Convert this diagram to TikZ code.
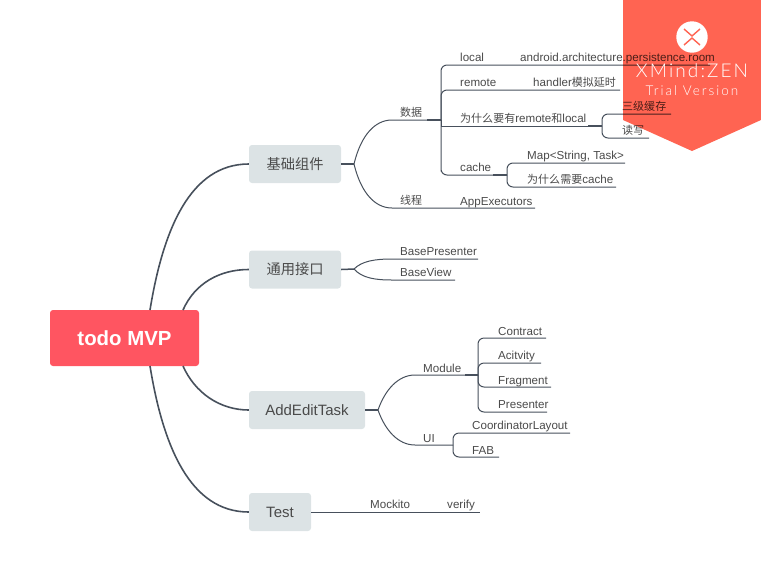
\documentclass[tikz,border=0pt]{standalone}
\usepackage{fontspec}
\setmainfont{Liberation Sans}
\newfontfamily\cjk[Scale=0.95]{Noto Sans CJK SC}
\newfontfamily\bannerA[LetterSpace=11]{Lato Light}
\newfontfamily\bannerB[LetterSpace=15]{Lato Light}
\definecolor{linecol}{HTML}{47505C}
\definecolor{txtcol}{HTML}{4A4A4A}
\definecolor{rootcol}{HTML}{FF5561}
\definecolor{boxcol}{HTML}{DCE3E5}
\definecolor{bannercol}{HTML}{FF6452}
\tikzset{
  x=1pt,y=-1pt,
  rootbox/.style={fill=rootcol,rounded corners=3pt,text=white,font=\fontsize{20.4}{24}\selectfont\bfseries,align=center,inner sep=0pt,minimum width=149pt,minimum height=56pt},
  topicbox/.style={fill=boxcol,rounded corners=3pt,text=txtcol,font=\fontsize{15}{17}\selectfont,align=center,inner sep=0pt,minimum height=38pt},
  leaf/.style={anchor=base west,text=txtcol,font=\fontsize{11.6}{13}\selectfont,inner sep=0pt},
  main/.style={draw=linecol,line width=1.6pt},
  sub/.style={draw=linecol,line width=1pt},
  stub/.style={draw=linecol,line width=1.5pt},
  turn/.style={sub,rounded corners=6pt},
}
\begin{document}
\begin{tikzpicture}
\useasboundingbox (0,0) rectangle (761,582);
% topics
\node[rootbox] (root) at (124.5,338) {todo MVP};
\node[topicbox,minimum width=92pt] (basic) at (295,164) {{\cjk 基础组件}};
\node[topicbox,minimum width=92pt] (iface) at (295,269.5) {{\cjk 通用接口}};
\node[topicbox,minimum width=116pt] (edit) at (307,410) {AddEditTask};
\node[topicbox,minimum width=62pt] (test) at (280,512) {Test};
% coordinates
\coordinate (rtl) at (150,310); \coordinate (rtr) at (183,310);
\coordinate (rbl) at (150,366); \coordinate (rbr) at (183,366);
\coordinate (jbasic) at (354,164); \coordinate (jiface) at (354,269); \coordinate (jedit) at (378,410);
\coordinate (jdata) at (441,120); \coordinate (jwhy) at (602,126); \coordinate (jcache) at (507,175);
\coordinate (jmod) at (478,375); \coordinate (jui) at (453,445);
\coordinate (data0) at (392,120); \coordinate (datas) at (427,120);
\coordinate (thr0) at (392,208); \coordinate (thr1) at (535,208);
\coordinate (local1) at (710,65); \coordinate (remote1) at (620,90); \coordinate (cache0) at (441,175);
\coordinate (why0) at (441,126); \coordinate (whys) at (588,126);
\coordinate (sanji) at (671,114); \coordinate (duxie) at (649,138);
\coordinate (map1) at (625,163); \coordinate (needc) at (616,187); \coordinate (caches) at (493,175);
\coordinate (bp0) at (392,259); \coordinate (bp1) at (478,259);
\coordinate (bv0) at (392,280); \coordinate (bv1) at (455,280);
\coordinate (mod0) at (415,375); \coordinate (mods) at (465,375); \coordinate (ui0) at (415,445);
\coordinate (c1) at (546,338); \coordinate (c2) at (541,363); \coordinate (c3) at (551,387); \coordinate (c4) at (547,412);
\coordinate (c5) at (570,433); \coordinate (c6) at (499,457); \coordinate (tend) at (480,512);
% main branches
\draw[main] (rtl) .. controls (163,230) and (190,164) .. (basic.west);
\draw[main] (rtr) .. controls (195,283) and (220,269.5) .. (iface.west);
\draw[main] (rbr) .. controls (195,393) and (220,410) .. (edit.west);
\draw[main] (rbl) .. controls (163,446) and (190,512) .. (test.west);
% basic
\draw[stub] (basic.east) -- (jbasic);
\draw[sub] (jbasic) .. controls (361,135) and (375,120) .. (data0) -- (jdata);
\draw[stub] (datas) -- (jdata);
\draw[sub] (jbasic) .. controls (361,193) and (375,208) .. (thr0) -- (thr1);
\draw[turn] (jdata) |- (local1);
\draw[turn] (jdata) |- (remote1);
\draw[sub] (jdata) -- (why0) -- (jwhy);
\draw[stub] (whys) -- (jwhy);
\draw[turn] (jdata) |- (jcache-|cache0) -- (jcache);
\draw[stub] (caches) -- (jcache);
\draw[turn] (jwhy) |- (sanji);
\draw[turn] (jwhy) |- (duxie);
\draw[turn] (jcache) |- (map1);
\draw[turn] (jcache) |- (needc);
% iface
\draw[stub] (iface.east) -- (jiface);
\draw[sub] (jiface) .. controls (362,261) and (375,259) .. (bp0) -- (bp1);
\draw[sub] (jiface) .. controls (362,278) and (375,280) .. (bv0) -- (bv1);
% edit
\draw[stub] (edit.east) -- (jedit);
\draw[sub] (jedit) .. controls (385,390) and (398,375) .. (mod0) -- (jmod);
\draw[stub] (mods) -- (jmod);
\draw[sub] (jedit) .. controls (385,430) and (398,445) .. (ui0) -- (jui);
\draw[turn] (jmod) |- (c1);
\draw[turn] (jmod) |- (c2);
\draw[turn] (jmod) |- (c3);
\draw[turn] (jmod) |- (c4);
\draw[turn] (jui) |- (c5);
\draw[turn] (jui) |- (c6);
% test
\draw[sub] (test.east) -- (tend);
% labels
\node[leaf] (tdata) at (400,116) {{\cjk 数据}};
\node[leaf] (tthr) at (400,204.5) {{\cjk 线程}};
\node[leaf] (tlocal) at (460,61) {local};
\node[leaf] (tandroid) at (520,61) {android.architecture.persistence.room};
\node[leaf] (tremote) at (460,86) {remote};
\node[leaf] (thandler) at (533,86) {handler{\cjk 模拟延时}};
\node[leaf] (twhy) at (460,122) {{\cjk 为什么要有}remote{\cjk 和}local};
\node[leaf] (tsanji) at (622,110) {{\cjk 三级缓存}};
\node[leaf] (tduxie) at (622,134.5) {{\cjk 读写}};
\node[leaf] (tcache) at (460,171) {cache};
\node[leaf] (tmap) at (527,159) {Map<String, Task>};
\node[leaf] (tneed) at (527,183.5) {{\cjk 为什么需要}cache};
\node[leaf] (tapp) at (460,205) {AppExecutors};
\node[leaf] (tbp) at (400,255) {BasePresenter};
\node[leaf] (tbv) at (400,276.5) {BaseView};
\node[leaf] (tmod) at (423,372) {Module};
\node[leaf] (tui) at (423,442) {UI};
\node[leaf] (tcon) at (498,335) {Contract};
\node[leaf] (tact) at (498,359) {Acitvity};
\node[leaf] (tfra) at (498,384) {Fragment};
\node[leaf] (tpre) at (498,408) {Presenter};
\node[leaf] (tcoo) at (472,429) {CoordinatorLayout};
\node[leaf] (tfab) at (472,454) {FAB};
\node[leaf] (tmock) at (370,508) {Mockito};
\node[leaf] (tver) at (447,508) {verify};
% banner
\begin{scope}[blend mode=multiply]
\fill[bannercol] (623,0) -- (761,0) -- (761,120) -- (692,151) -- (623,120) -- cycle;
\end{scope}
\fill[white] (692,37) circle (15.7);
\draw[bannercol,line width=1.4pt] (684,29) -- (692,36) -- (700,29);
\draw[bannercol,line width=1.4pt] (684,45) -- (692,38) -- (700,45);
\node[text=white,inner sep=0pt,font=\fontsize{19}{24}\bannerA] (bname) at (692,71) {XMind:ZEN};
\node[text=white,inner sep=0pt,font=\fontsize{13.5}{16}\bannerB] (btrial) at (692,91) {Trial Version};
\end{tikzpicture}
\end{document}
